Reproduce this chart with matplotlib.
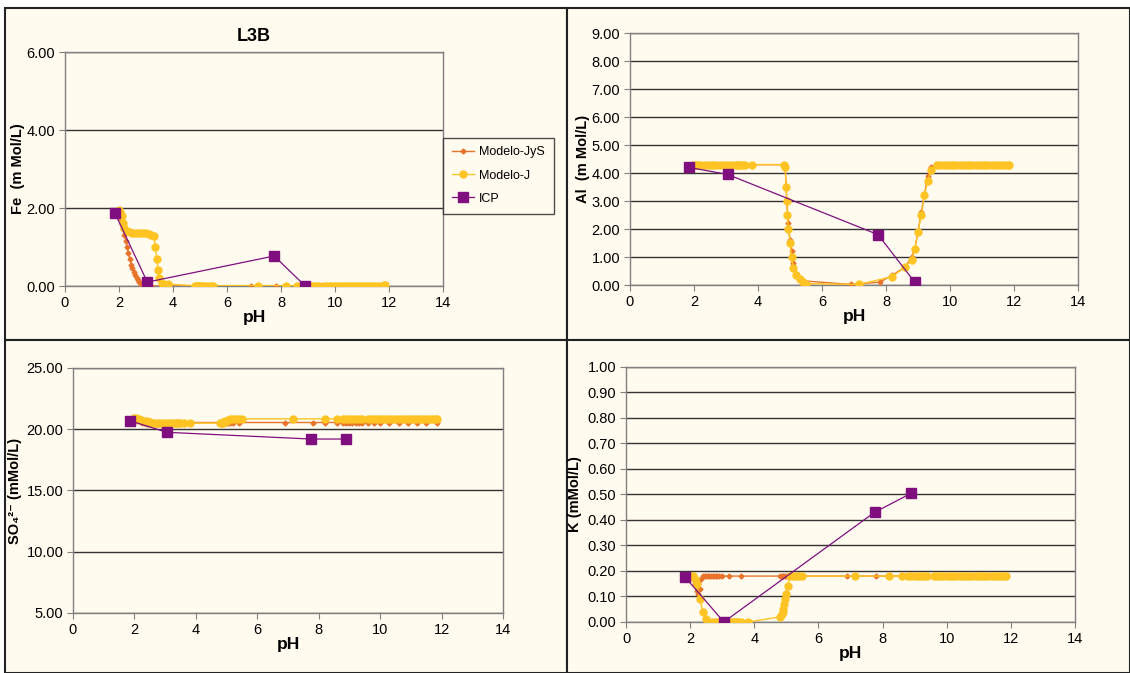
import matplotlib
matplotlib.use("Agg")
import matplotlib.pyplot as plt
from matplotlib.patches import Rectangle

plt.rcParams['font.family'] = ['Liberation Sans', 'DejaVu Sans']

# pH steps of the two model runs (shared by every element)
ph_jys = [1.95, 2.0, 2.05, 2.1, 2.15, 2.2, 2.25, 2.3, 2.35, 2.4, 2.45, 2.5, 2.55, 2.6,
          2.65, 2.7, 2.75, 2.8, 2.85, 2.9, 3.0, 3.2, 3.6, 4.8, 4.85, 4.9, 4.95, 5.0,
          5.05, 5.1, 5.2, 5.4, 6.9, 7.8, 8.2, 8.6, 8.8, 8.9, 9.0, 9.1, 9.2, 9.3, 9.4,
          9.6, 9.8, 10.0, 10.3, 10.6, 10.9, 11.2, 11.5, 11.85]
ph_j = [2.0, 2.05, 2.1, 2.15, 2.2, 2.3, 2.4, 2.5, 2.6, 2.7, 2.8, 2.9, 3.0, 3.1, 3.2,
        3.3, 3.35, 3.4, 3.45, 3.5, 3.6, 3.8, 4.8, 4.85, 4.88, 4.9, 4.92, 4.95, 5.0,
        5.05, 5.1, 5.2, 5.3, 5.4, 5.5, 7.15, 8.2, 8.6, 8.8, 8.9, 9.0, 9.1, 9.2, 9.3,
        9.4, 9.6, 9.7, 9.8, 9.9, 10.0, 10.1, 10.2, 10.3, 10.4, 10.5, 10.6, 10.7, 10.8,
        10.9, 11.0, 11.1, 11.2, 11.3, 11.4, 11.5, 11.6, 11.7, 11.8, 11.85]
ph_icp = [1.85, 3.05, 7.75, 8.9]

# Fe
fe_jys = [1.95, 1.9, 1.75, 1.6, 1.45, 1.3, 1.15, 1.0, 0.85, 0.7, 0.55, 0.45, 0.35, 0.28,
          0.2, 0.15, 0.1, 0.06, 0.03, 0.01, 0.0, 0.0, 0.0, 0.0, 0.0, 0.0, 0.0, 0.0,
          0.0, 0.0, 0.0, 0.0, 0.0, 0.0, 0.0, 0.0, 0.0, 0.0, 0.0, 0.0, 0.0, 0.0, 0.0,
          0.0, 0.0, 0.0, 0.0, 0.0, 0.0, 0.0, 0.0, 0.0]
fe_j = [1.95, 1.9, 1.8, 1.62, 1.5, 1.42, 1.38, 1.36, 1.35, 1.35, 1.35, 1.35, 1.35, 1.34,
        1.32, 1.28, 1.0, 0.7, 0.4, 0.2, 0.08, 0.05, 0.01, 0.01, 0.01, 0.01, 0.01, 0.01,
        0.01, 0.01, 0.01, 0.01, 0.01, 0.01, 0.01, 0.01, 0.01, 0.01, 0.01, 0.01, 0.01,
        0.01, 0.01, 0.01, 0.01, 0.01, 0.01, 0.01, 0.01, 0.01, 0.01, 0.01, 0.01, 0.01,
        0.01, 0.01, 0.01, 0.01, 0.01, 0.01, 0.01, 0.01, 0.01, 0.01, 0.01, 0.01, 0.01,
        0.02, 0.03]
fe_icp = [1.87, 0.1, 0.77, 0.0]

# Al
al_jys = [4.3, 4.3, 4.3, 4.3, 4.3, 4.3, 4.3, 4.3, 4.3, 4.3, 4.3, 4.3, 4.3, 4.3, 4.3,
          4.3, 4.3, 4.3, 4.3, 4.3, 4.3, 4.3, 4.3, 4.3, 4.25, 3.0, 2.2, 1.6, 1.2, 0.8,
          0.4, 0.15, 0.02, 0.1, 0.35, 0.65, 1.0, 1.3, 1.9, 2.6, 3.2, 3.9, 4.2, 4.3,
          4.3, 4.3, 4.3, 4.3, 4.3, 4.3, 4.3, 4.3]
al_j = [4.3, 4.3, 4.3, 4.3, 4.3, 4.3, 4.3, 4.3, 4.3, 4.3, 4.3, 4.3, 4.3, 4.3, 4.3,
        4.3, 4.3, 4.3, 4.3, 4.3, 4.3, 4.3, 4.3, 4.2, 3.5, 3.0, 2.5, 2.0, 1.5, 1.0,
        0.6, 0.35, 0.2, 0.12, 0.05, 0.02, 0.3, 0.65, 0.9, 1.3, 1.9, 2.5, 3.2, 3.7,
        4.1, 4.3, 4.3, 4.3, 4.3, 4.3, 4.3, 4.3, 4.3, 4.3, 4.3, 4.3, 4.3, 4.3, 4.3,
        4.3, 4.3, 4.3, 4.3, 4.3, 4.3, 4.3, 4.3, 4.3, 4.3]
al_icp = [4.2, 3.95, 1.8, 0.1]

# SO4 2-
so4_jys = [20.85, 20.8, 20.75, 20.7, 20.65, 20.6, 20.55, 20.5, 20.48, 20.45, 20.43,
           20.42, 20.4, 20.4, 20.4, 20.4, 20.4, 20.4, 20.4, 20.4, 20.42, 20.5, 20.55,
           20.55, 20.55, 20.55, 20.55, 20.55, 20.55, 20.55, 20.55, 20.55, 20.55, 20.55,
           20.55, 20.55, 20.55, 20.55, 20.55, 20.55, 20.55, 20.55, 20.55, 20.55, 20.55,
           20.55, 20.55, 20.55, 20.55, 20.55, 20.55, 20.55]
so4_j = [20.9, 20.88, 20.85, 20.8, 20.75, 20.7, 20.65, 20.6, 20.55, 20.52, 20.5, 20.5,
         20.5, 20.5, 20.5, 20.5, 20.5, 20.5, 20.5, 20.5, 20.5, 20.5, 20.5, 20.52, 20.55,
         20.6, 20.62, 20.65, 20.7, 20.75, 20.8, 20.85, 20.85, 20.85, 20.85, 20.85,
         20.85, 20.85, 20.85, 20.85, 20.85, 20.85, 20.85, 20.85, 20.85, 20.85, 20.85,
         20.85, 20.85, 20.85, 20.85, 20.85, 20.85, 20.85, 20.85, 20.85, 20.85, 20.85,
         20.85, 20.85, 20.85, 20.85, 20.85, 20.85, 20.85, 20.85, 20.85, 20.85, 20.85]
so4_icp = [20.7, 19.75, 19.2, 19.2]

# K
k_jys = [0.18, 0.18, 0.18, 0.17, 0.15, 0.12, 0.11, 0.13, 0.17, 0.18, 0.18, 0.18, 0.18,
         0.18, 0.18, 0.18, 0.18, 0.18, 0.18, 0.18, 0.18, 0.18, 0.18, 0.18, 0.18, 0.18,
         0.18, 0.18, 0.18, 0.18, 0.18, 0.18, 0.18, 0.18, 0.18, 0.18, 0.18, 0.18, 0.18,
         0.18, 0.18, 0.18, 0.18, 0.18, 0.18, 0.18, 0.18, 0.18, 0.18, 0.18, 0.18, 0.18]
k_j = [0.18, 0.18, 0.18, 0.17, 0.15, 0.09, 0.04, 0.01, 0.0, 0.0, 0.0, 0.0, 0.0, 0.0,
       0.0, 0.0, 0.0, 0.0, 0.0, 0.0, 0.0, 0.0, 0.02, 0.03, 0.04, 0.05, 0.07, 0.09,
       0.11, 0.14, 0.18, 0.18, 0.18, 0.18, 0.18, 0.18, 0.18, 0.18, 0.18, 0.18, 0.18,
       0.18, 0.18, 0.18, 0.18, 0.18, 0.18, 0.18, 0.18, 0.18, 0.18, 0.18, 0.18, 0.18,
       0.18, 0.18, 0.18, 0.18, 0.18, 0.18, 0.18, 0.18, 0.18, 0.18, 0.18, 0.18, 0.18,
       0.18, 0.18]
k_icp = [0.175, 0.0, 0.43, 0.505]

BG = '#FFFBEF'
ORANGE = '#E8742C'
YELLOW = '#FFC423'
PURPLE = '#7F0F7E'

fig = plt.figure(figsize=(11.3, 6.73), dpi=100, facecolor='white')

# panel frames
for x0, y0, w, h in [(0.004, 0.495, 0.498, 0.493), (0.502, 0.495, 0.498, 0.493),
                     (0.004, 0.0, 0.498, 0.495), (0.502, 0.0, 0.498, 0.495)]:
    fig.patches.append(Rectangle((x0, y0), w, h, transform=fig.transFigure,
                                 facecolor=BG, edgecolor='#222222', lw=1.5, zorder=-10))

# rect, model JyS, model J, ICP, y range, y step, y label, label x (axes coords)
panels = [
    ([0.0575, 0.575, 0.3345, 0.3477], fe_jys, fe_j, fe_icp, (0, 6), 2,
     'Fe  (m Mol/L)', -0.106),
    ([0.5575, 0.5765, 0.3965, 0.3744], al_jys, al_j, al_icp, (0, 9), 1,
     'Al  (m Mol/L)', -0.089),
    ([0.0646, 0.0892, 0.3805, 0.364], so4_jys, so4_j, so4_icp, (5, 25), 5,
     'SO\u2084\u00b2\u207b (mMol/L)', -0.119),
    ([0.554, 0.0758, 0.3973, 0.379], k_jys, k_j, k_icp, (0, 1), 0.1,
     'K (mMol/L)', -0.098),
]

axes = []
for rect, yjys, yj, yicp, ylim, step, ylabel, lx in panels:
    ax = fig.add_axes(rect)
    ax.set_zorder(1)
    ax.set_facecolor(BG)
    ax.plot(ph_jys, yjys, color=ORANGE, lw=1, marker='D', ms=2.5, mec=ORANGE,
            label='Modelo-JyS', zorder=3)
    ax.plot(ph_j, yj, color=YELLOW, lw=1, marker='o', ms=5, mec=YELLOW,
            label='Modelo-J', zorder=3.5)
    ax.plot(ph_icp, yicp, color=PURPLE, lw=0.9, marker='s', ms=7, mec=PURPLE,
            label='ICP', zorder=4)
    ax.set_xlim(0, 14)
    ax.set_ylim(*ylim)
    ax.set_xticks(range(0, 15, 2))
    nt = int(round((ylim[1] - ylim[0]) / step))
    ax.set_yticks([ylim[0] + i * step for i in range(nt + 1)])
    ax.yaxis.set_major_formatter(matplotlib.ticker.FormatStrFormatter('%.2f'))
    ax.grid(axis='y', color='#333333', lw=1)
    ax.set_axisbelow(True)
    for s in ax.spines.values():
        s.set_color('#808080')
        s.set_linewidth(1)
    ax.tick_params(labelsize=10.5, length=4, color='#808080', pad=3)
    ax.set_xlabel('pH', fontsize=12.5, fontweight='bold', labelpad=0)
    ax.set_ylabel(ylabel, fontsize=10.5, fontweight='bold')
    ax.yaxis.set_label_coords(lx, 0.5)
    axes.append(ax)

axes[0].set_title('L3B', fontsize=13, fontweight='bold', pad=8)
leg = axes[0].legend(loc='center left', bbox_to_anchor=(1.0, 0.472), fontsize=9,
                     frameon=True, fancybox=False, borderpad=0.7, labelspacing=0.9,
                     handlelength=1.8, handletextpad=0.4, borderaxespad=0)
leg.get_frame().set_edgecolor('#222222')
leg.get_frame().set_facecolor(BG)
leg.get_frame().set_linewidth(1)

fig.savefig('out.png', dpi=100, facecolor=fig.get_facecolor())
